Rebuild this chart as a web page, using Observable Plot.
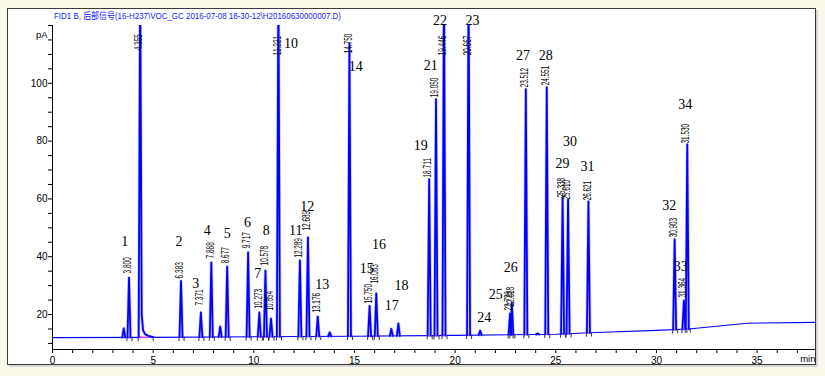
<!DOCTYPE html>
<html><head><meta charset="utf-8">
<script src="https://cdn.jsdelivr.net/npm/d3@7"></script>
<script src="https://cdn.jsdelivr.net/npm/@observablehq/plot@0.6"></script>
<style>
html,body{margin:0;padding:0;background:#fbf9ea;}
#wrap{position:relative;width:825px;height:376px;overflow:hidden;background:#fbf9ea;}
#box{position:absolute;left:7px;top:8px;width:809px;height:357px;background:#fff;border:1.5px solid #3a3a3a;box-sizing:border-box;box-shadow:2px 2px 0 #d6d6d6;}
#chart{position:absolute;left:0;top:0;}
</style></head><body>
<div id="wrap"><div id="box"></div><div id="chart"></div></div>
<script>
// ---- text ----
const title = "FID1 B, 后部信号(16-H237\\VOC_GC 2016-07-08 18-30-12\\H20160630000007.D)";
const yUnit = "pA";
const xUnit = "min";

// ---- axes ----
const xDomain = [0, 37.9];
const yDomain = [7.9, 120];
const xTicksMajor = [0, 5, 10, 15, 20, 25, 30, 35];
const xTicksMinor = [0,1,2,3,4,5,6,7,8,9,10,11,12,13,14,15,16,17,18,19,20,21,22,23,24,25,26,27,28,29,30,31,32,33,34,35,36,37];
const yTicksMajor = [20, 40, 60, 80, 100];
const yTicksMinor = [10,15,20,25,30,35,40,45,50,55,60,65,70,75,80,85,90,95,100,105,110,115,120];

// ---- labelled peaks: retention time, apex height (pA), label start (pA) ----
const peakRT = ["3.800","4.355","6.383","7.371","7.888","8.677","9.717","10.273","10.578","10.854","11.221","12.289","12.689","13.176","14.750","15.750","16.083","18.711","19.050","19.446","20.667","22.729","22.818","23.512","24.551","25.338","25.610","26.621","30.903","31.364","31.530"];
const peakHeight = [32.8,135,31.6,20.7,38.0,36.6,41.5,20.7,35.2,18.6,135,38.7,46.7,19.3,113.8,23.0,27.3,66.8,94.5,135,135,20.3,24.0,98.0,98.6,60.6,59.8,59.1,46.0,24.8,78.9];
const peakLabelAt = [34.2,111.4,32.5,23.1,39.4,37.7,42.9,22.1,37.0,21.4,109.7,39.7,49.1,20.7,110.4,23.8,30.7,67.4,95.2,109.7,109.7,21.4,22.8,98.6,99.3,60.5,59.8,59.5,46.7,25.9,79.2];

// tailing of the peak at 4.355
const tailTime = [4.43, 4.5, 4.6, 4.8, 5.0];
const tailValue = [20, 14.5, 13.2, 12.5, 12.15];

// ---- small unlabelled peaks ----
const smallPeakTime = [3.54, 8.33, 13.77, 16.83, 17.18, 21.24, 24.10];
const smallPeakHeight = [15.2, 15.8, 13.8, 15.0, 16.9, 14.4, 13.4];

// ---- baseline (drift) ----
const baseTime = [0, 5, 10, 15, 20, 25, 27, 30, 31.6, 34.5, 37.9];
const baseValue = [12.0, 12.1, 12.3, 12.5, 12.8, 13.2, 13.8, 14.5, 15.0, 17.0, 17.3];

// ---- compound numbers ----
const compoundNo = ["1","2","3","4","5","6","7","8","10","11","12","13","14","15","16","17","18","19","21","22","23","24","25","26","27","28","29","30","31","32","33","34"];
const compoundTime = [3.59,6.28,7.11,7.69,8.68,9.68,10.19,10.62,11.85,12.08,12.66,13.40,15.06,15.61,16.22,16.85,17.33,18.29,18.79,19.25,20.86,21.44,22.02,22.76,23.37,24.50,25.33,25.71,26.57,30.63,31.21,31.43];
const compoundValue = [45.4,45.4,30.8,49.1,48.0,51.8,34.1,49.1,113.7,49.1,57.2,30.4,105.9,35.8,44.2,23.1,30.0,78.5,106.0,121.6,121.6,19.1,26.9,36.4,109.7,109.7,72.2,79.7,71.3,57.7,36.7,92.7];

// ---- build tables ----
const base = d3.scaleLinear().domain(baseTime).range(baseValue);
const W = 0.075;
const baseline = baseTime.map((t, i) => ({t, v: baseValue[i]}));
const peakPts = [];
peakRT.forEach((s, i) => {
  const t = +s;
  peakPts.push({id: "p" + i, t: t - W, v: base(t - W)}, {id: "p" + i, t, v: peakHeight[i]});
  if (s === "4.355") tailTime.forEach((tt, j) => peakPts.push({id: "p" + i, t: tt, v: tailValue[j]}));
  else peakPts.push({id: "p" + i, t: t + W, v: base(t + W)});
});
smallPeakTime.forEach((t, i) => {
  peakPts.push({id: "s" + i, t: t - W, v: base(t - W)}, {id: "s" + i, t, v: smallPeakHeight[i]}, {id: "s" + i, t: t + W, v: base(t + W)});
});
const integ = peakRT.map((s) => {
  const t = +s;
  const a = t - 0.1, b = s === "4.355" ? tailTime[tailTime.length - 1] : t + 0.15;
  return {a, b, va: base(a), vb: base(b)};
});
const bounds = integ.flatMap(d => [{t: d.a, v: d.va}, {t: d.b, v: d.vb}]);
const rtLabels = peakRT.map((s, i) => ({t: +s, v: peakLabelAt[i], s}));
const compounds = compoundNo.map((n, i) => ({n, t: compoundTime[i], v: compoundValue[i]}));

const sans = "'Liberation Sans', Arial, 'Noto Sans CJK SC', sans-serif";
const plot = Plot.plot({
  width: 825, height: 376,
  marginLeft: 52, marginRight: 10, marginTop: 25, marginBottom: 27,
  style: {background: "transparent", fontFamily: sans, fontSize: "10px", color: "#000"},
  x: {domain: xDomain},
  y: {domain: yDomain},
  marks: [
    Plot.axisX({ticks: xTicksMinor, tickSize: 4, tickPadding: 3, label: null,
      tickFormat: d => xTicksMajor.includes(d) ? String(d) : ""}),
    Plot.axisY({ticks: yTicksMinor, tickSize: 4, tickPadding: 1, label: null,
      tickFormat: d => yTicksMajor.includes(d) ? String(d) : ""}),
    Plot.ruleX([xDomain[0]], {y1: yDomain[0], y2: yDomain[1], stroke: "#000", strokeWidth: 1}),
    Plot.ruleY([yDomain[0]], {x1: xDomain[0], x2: xDomain[1], stroke: "#000", strokeWidth: 1}),
    Plot.line(baseline, {x: "t", y: "v", stroke: "#0000ff", strokeWidth: 1.1, clip: true}),
    Plot.link(integ, {x1: "a", y1: "va", x2: "b", y2: "vb", stroke: "#ff33ff", strokeWidth: 1.2}),
    Plot.ruleX(bounds, {x: "t", y1: "v", y2: d => d.v - 1.5, stroke: "#000", strokeWidth: 0.8}),
    Plot.line(peakPts, {x: "t", y: "v", z: "id", stroke: "#8080ff", strokeWidth: 3.2, strokeOpacity: 0.45, clip: true}),
    Plot.line(peakPts, {x: "t", y: "v", z: "id", stroke: "#0000ff", strokeWidth: 1.8, clip: true}),
    Plot.text(rtLabels, {x: "t", y: "v", text: "s", rotate: -90, textAnchor: "start", fontSize: 10, dx: -1, fill: "#000", ariaDescription: "rtlabels"}),
    Plot.text(compounds, {x: "t", y: "v", text: "n", fontFamily: "'Liberation Serif', 'Times New Roman', serif", fontSize: 14, fill: "#000"}),
    Plot.text([yUnit], {frameAnchor: "top-left", dx: -5, dy: 6, textAnchor: "end", fontSize: 9.5, fill: "#000"}),
    Plot.text([xUnit], {frameAnchor: "bottom-right", dx: 0, dy: 12, textAnchor: "end", fontSize: 9.5, fill: "#000"})
  ]
});
document.getElementById("chart").appendChild(plot);
const svg = d3.select(plot);
svg.selectAll('g[aria-description="rtlabels"] text').each(function() {
  const n = this.textContent.length;
  this.setAttribute("textLength", (n * 3.25).toFixed(1));
  this.setAttribute("lengthAdjust", "spacingAndGlyphs");
});
svg.append("text")
  .attr("x", 54).attr("y", 18.5)
  .attr("text-anchor", "start")
  .attr("fill", "#1a1aff").attr("font-size", 9.5).attr("font-family", sans)
  .attr("textLength", 287).attr("lengthAdjust", "spacingAndGlyphs")
  .text(title);
</script>
</body></html>
